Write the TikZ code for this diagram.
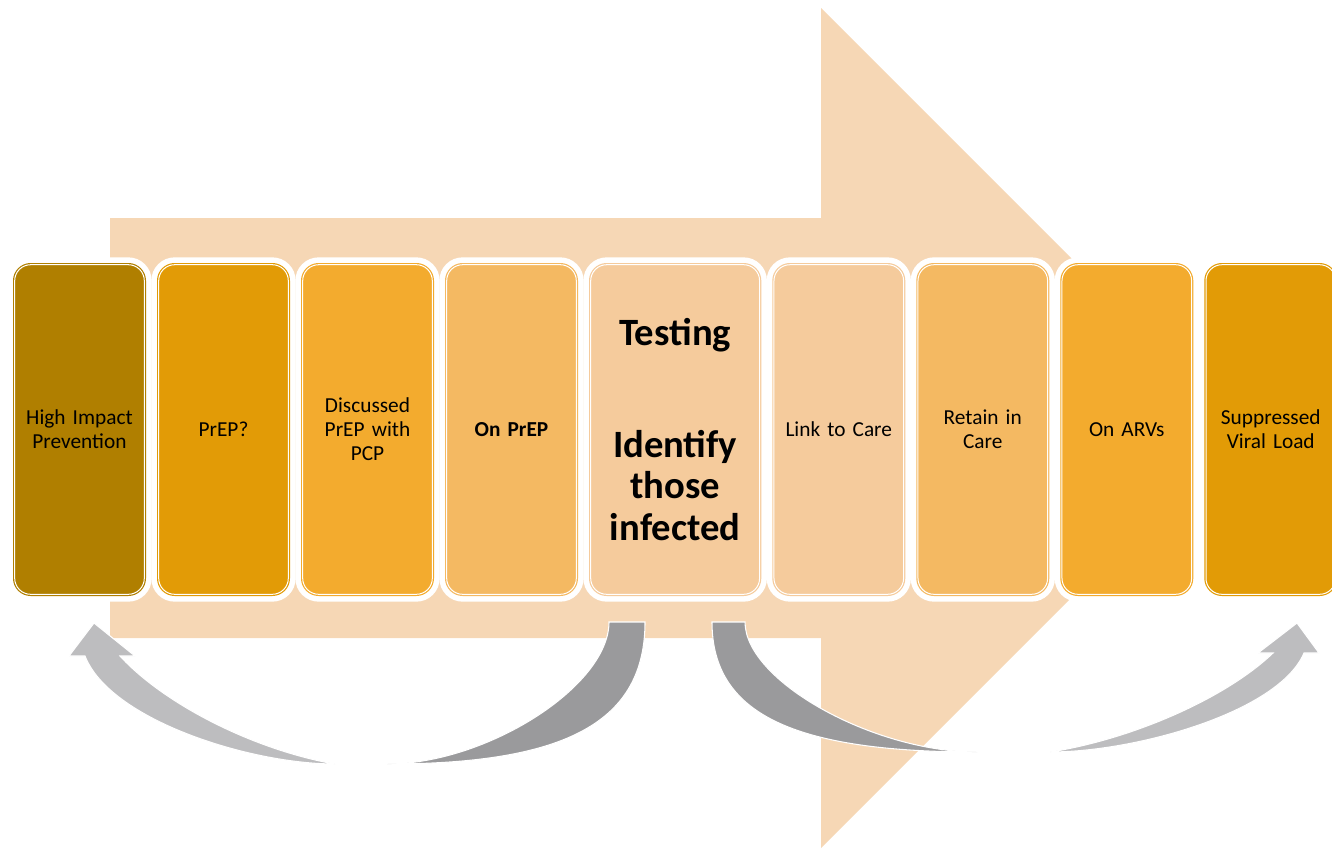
\documentclass[tikz,border=0pt]{standalone}
\usepackage{fontspec}
\setmainfont{Carlito}
\usepackage{tikz}
\usetikzlibrary{positioning}

\definecolor{bandpeach}{HTML}{F6D7B5}
\definecolor{stageA}{HTML}{B07F00}
\definecolor{stageB}{HTML}{E29B06}
\definecolor{stageC}{HTML}{F3AB2E}
\definecolor{stageD}{HTML}{F4B962}
\definecolor{stageE}{HTML}{F5CB9C}
\definecolor{loopdark}{HTML}{9A9A9C}
\definecolor{looplight}{HTML}{BDBDBF}

\begin{document}
\begin{tikzpicture}[x=0.75pt, y=0.75pt, yscale=-1,
    stage/.style={rectangle, rounded corners=12pt, outer sep=0pt,
        minimum width=97.2pt, minimum height=247.2pt, text width=90pt, align=center,
        font=\fontsize{16}{18}\selectfont,
        fill=#1, draw=#1, line width=0.9pt, double=white, double distance=0.75pt,
        preaction={draw=white, line width=11pt}},
    swoosh/.style={fill=#1, draw=white, line width=0.8pt},
    node distance=10.8pt]
    \useasboundingbox (0,0) rectangle (1332,850);

    % big arrow behind
    \fill[bandpeach] (110,218) -- (821,218) -- (821,8) -- (1241,428)
        -- (821,848) -- (821,638) -- (110,638) -- cycle;

    % loops under the stages
    \path[swoosh=loopdark] (609,622) -- (645,622)
        .. controls (645,721) and (568,764) .. (387,764)
        .. controls (487,764) and (609,686) .. (609,622) -- cycle;
    \path[swoosh=looplight] (85,656)
        .. controls (110,720) and (250,764) .. (335,764)
        .. controls (255,750) and (165,705) .. (120,656)
        -- (135,656) -- (94,623) -- (69,656) -- cycle;
    \path[swoosh=loopdark] (712,622)
        .. controls (712,713) and (791.5,752) .. (977,752)
        .. controls (872.6,752) and (745,680.5) .. (745,622) -- cycle;
    \path[swoosh=looplight] (1304,653)
        .. controls (1279,712) and (1136,752) .. (1050,752)
        .. controls (1133,739) and (1226,698) .. (1273,653)
        -- (1258,653) -- (1297,623) -- (1319,653) -- cycle;

    % stages
    \node[stage=stageA] (s1) at (79.5,429.5) {High Impact\\Prevention};
    \node[stage=stageB, right=of s1] (s2) {PrEP?};
    \node[stage=stageC, right=of s2] (s3) {Discussed\\PrEP with\\PCP};
    \node[stage=stageD, right=of s3] (s4) {\textbf{On PrEP}};
    \node[stage=stageE, right=of s4, minimum width=125pt, text width=120pt,
        font=\bfseries\fontsize{29}{31}\selectfont] (s5)
        {Testing\\[53pt]Identify\\those\\infected};
    \node[stage=stageE, right=of s5] (s6) {Link to Care};
    \node[stage=stageD, right=of s6] (s7) {Retain in\\Care};
    \node[stage=stageC, right=of s7] (s8) {On ARVs};
    \node[stage=stageB, right=of s8] (s9) {Suppressed\\Viral Load};
\end{tikzpicture}
\end{document}
